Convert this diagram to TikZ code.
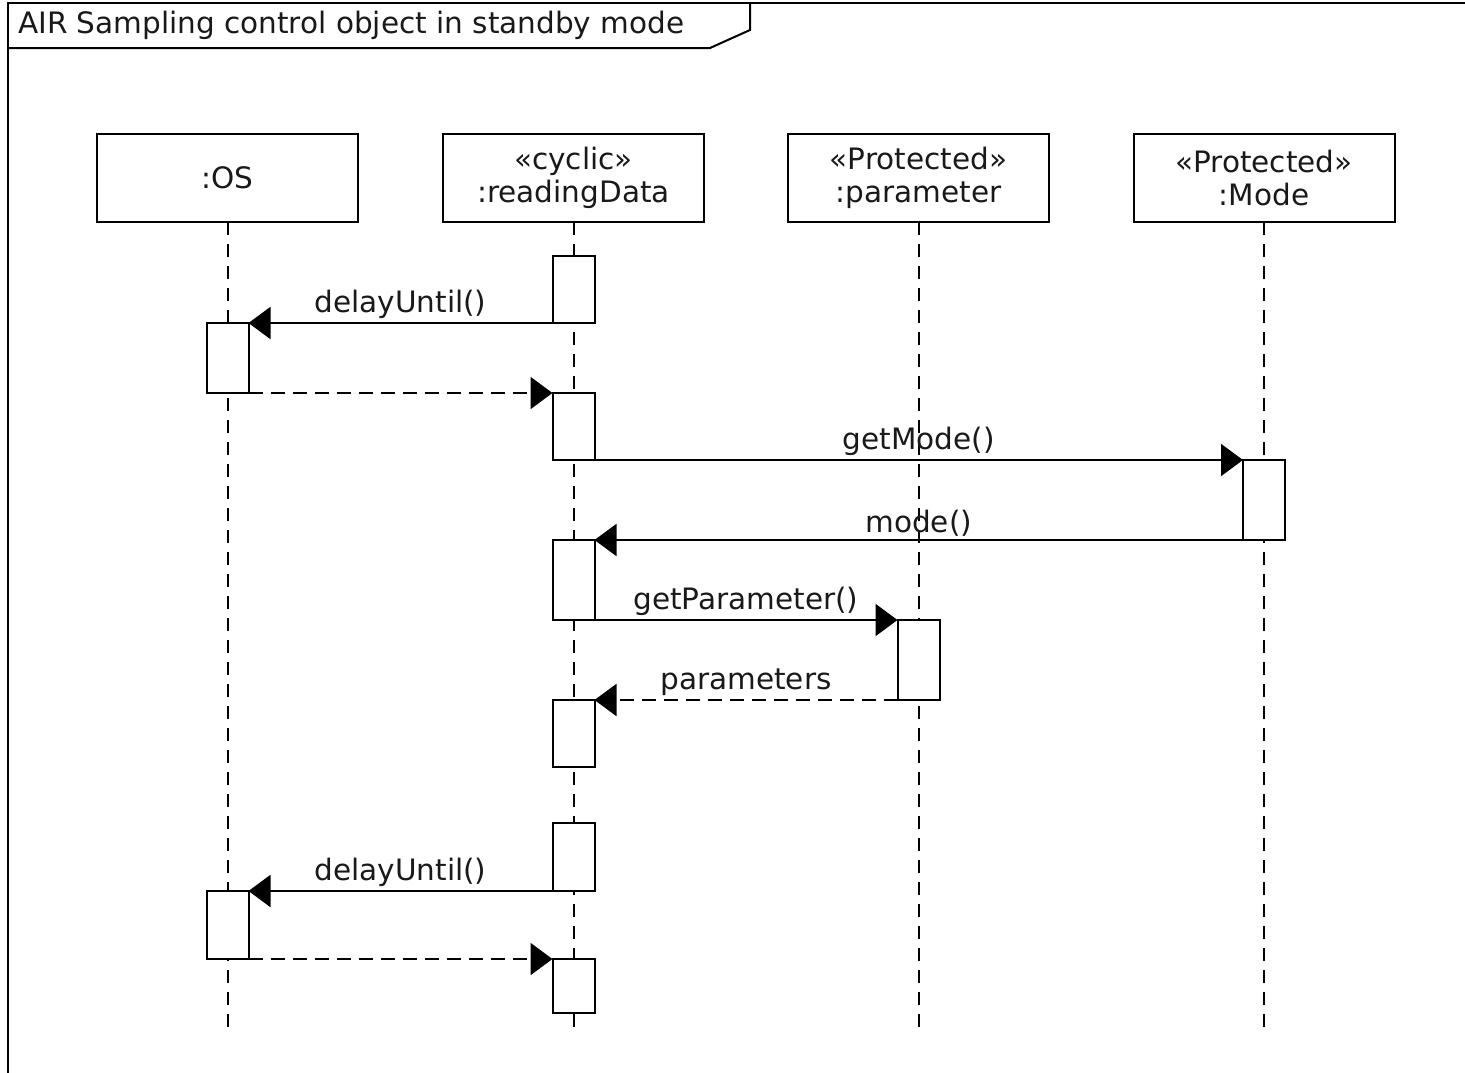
\documentclass[tikz,border=0pt]{standalone}
\usepackage{fontspec}
\setmainfont{DejaVu Sans}
\usetikzlibrary{arrows.meta}
\begin{document}
\begin{tikzpicture}[x=1pt,y=-1pt,
  every node/.style={font=\fontsize{29.5}{33}\selectfont, text=black!90},
  head/.style={draw, line width=2pt, minimum width=261pt, minimum height=88pt, inner sep=0pt, outer sep=0pt, align=center},
  act/.style={draw, line width=2pt, fill=white, minimum width=42pt, inner sep=0pt, outer sep=0pt},
  lifeline/.style={line width=2pt, dash pattern=on 13pt off 9pt},
  msg/.style={line width=2pt, -{Triangle[length=22pt,width=32pt]}},
  ret/.style={msg, dash pattern=on 14pt off 8pt},
  lbl/.style={anchor=south, inner sep=0pt, yshift=3pt}
]
\useasboundingbox (0,0) rectangle (1465,1072);
% frame
\draw[line width=2pt] (8,1080) -- (8,3) -- (1475,3);
\draw[line width=2pt] (8,48) -- (710,48) -- (750,30) -- (750,3);
\node[anchor=west, inner sep=0pt] (title) at (18,25) {AIR Sampling control object in standby mode};

% heads
\node[head] (os) at (227.5,178) {:OS};
\node[head] (rd) at (573.5,178) {«cyclic»\\:readingData};
\node[head] (par) at (918.5,178) {«Protected»\\:parameter};
\node[head] (mode) at (1264,178) {«Protected»\\:Mode};

% lifeline ends
\coordinate (osE) at (227.5,1033);
\coordinate (rdE) at (573.5,1033);
\coordinate (parE) at (918.5,1033);
\coordinate (modeE) at (1264,1033);
\draw[lifeline] (os.south) -- (osE);
\draw[lifeline] (rd.south) -- (rdE);
\draw[lifeline] (par.south) -- (parE);
\draw[lifeline] (mode.south) -- (modeE);

% activations
\node[act, minimum height=67pt] (r1) at (573.5,289.5) {};
\node[act, minimum height=70pt] (o1) at (227.5,358) {};
\node[act, minimum height=67pt] (r2) at (573.5,426.5) {};
\node[act, minimum height=80pt] (m1) at (1264,500) {};
\node[act, minimum height=80pt] (r3) at (573.5,580) {};
\node[act, minimum height=80pt] (p1) at (918.5,660) {};
\node[act, minimum height=67pt] (r4) at (573.5,733.5) {};
\node[act, minimum height=68pt] (r5) at (573.5,857) {};
\node[act, minimum height=68pt] (o2) at (227.5,925) {};
\node[act, minimum height=54pt] (r6) at (573.5,986) {};

% messages
\draw[msg] (r1.south west) -- node[lbl] {delayUntil()} (o1.north east);
\draw[ret] (o1.south east) -- (r2.north west);
\draw[msg] (r2.south east) -- node[lbl] {getMode()} (m1.north west);
\draw[msg] (m1.south west) -- node[lbl] {mode()} (r3.north east);
\draw[msg] (r3.south east) -- node[lbl] {getParameter()} (p1.north west);
\draw[ret] (p1.south west) -- node[lbl] {parameters} (r4.north east);
\draw[msg] (r5.south west) -- node[lbl] {delayUntil()} (o2.north east);
\draw[ret] (o2.south east) -- (r6.north west);
\end{tikzpicture}
\end{document}
